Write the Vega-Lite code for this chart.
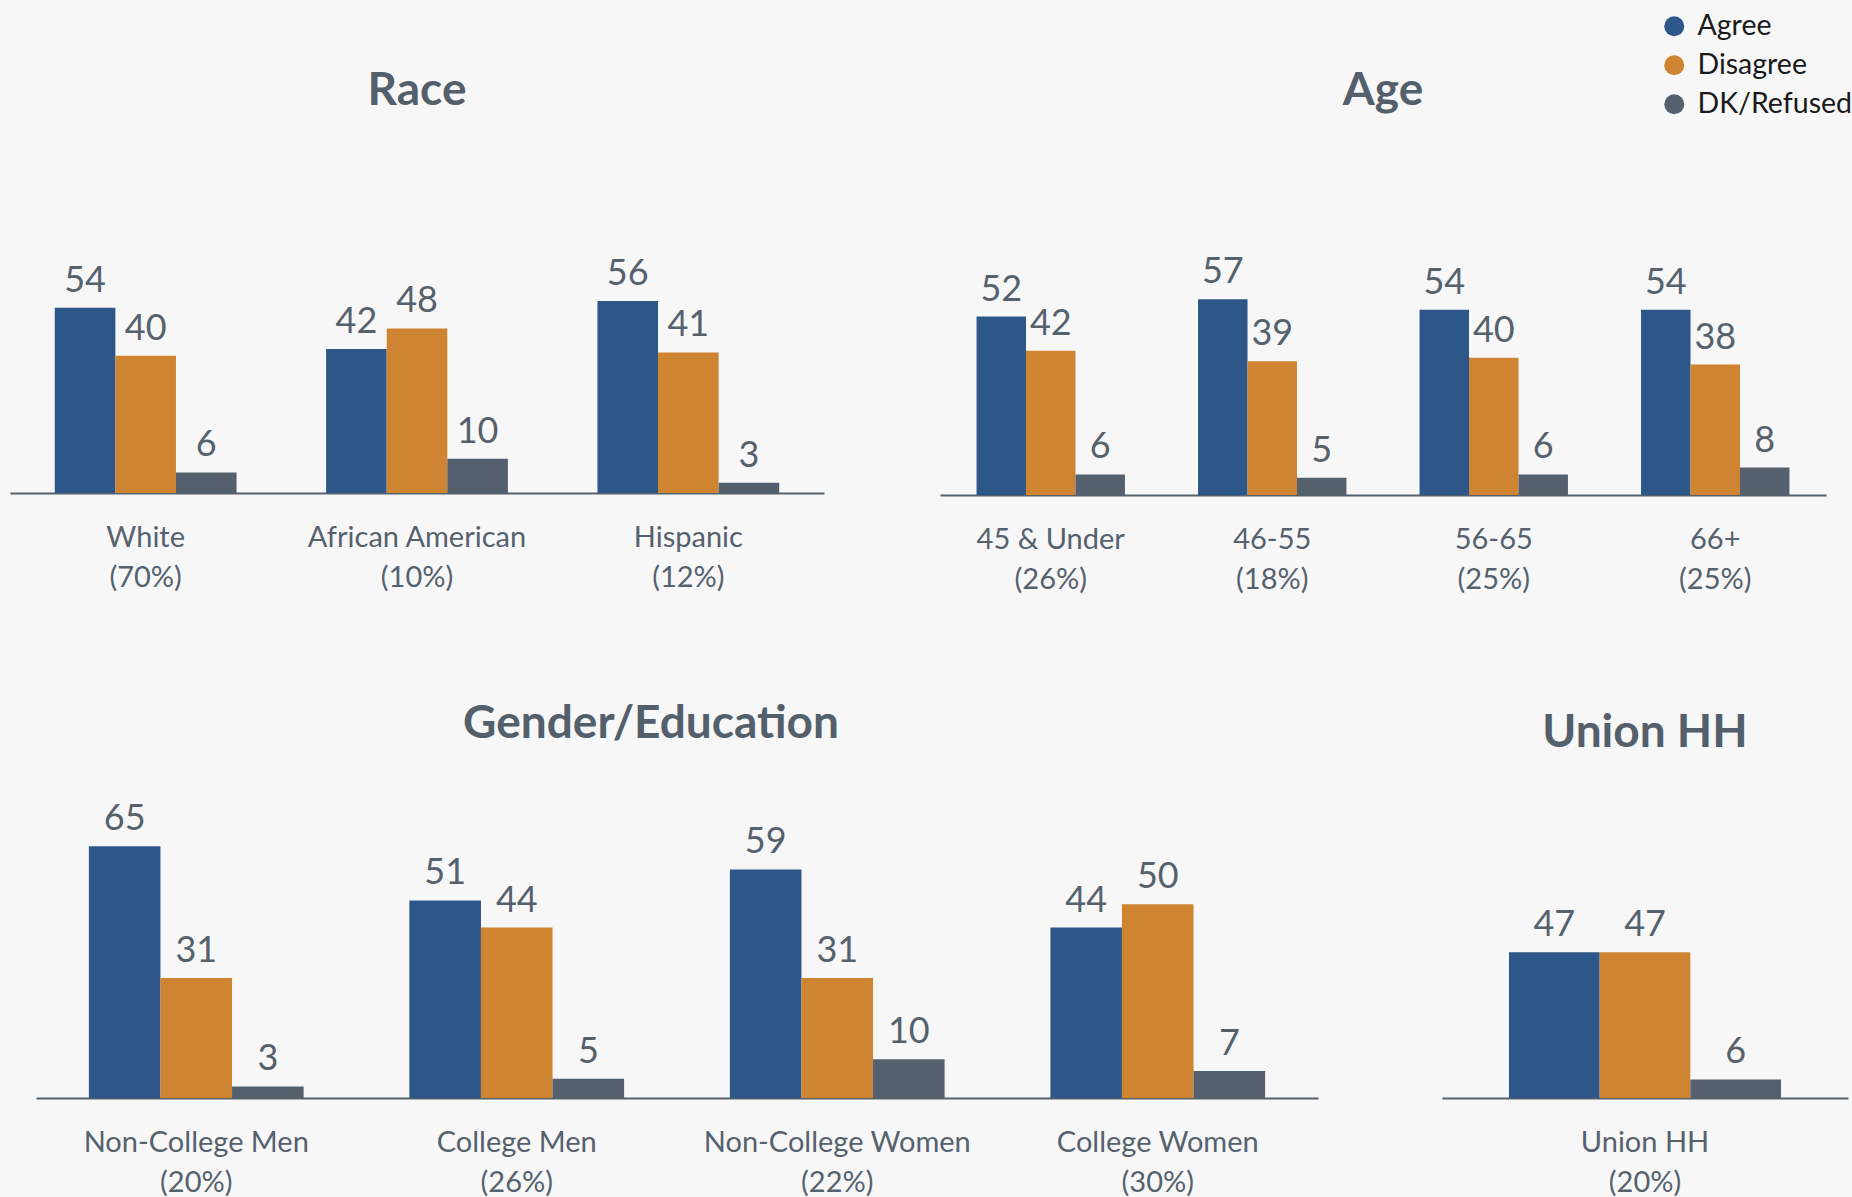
{
  "$schema": "https://vega.github.io/schema/vega-lite/v6.json",
  "background": "#f7f7f7",
  "padding": {"left": 10, "top": 12, "right": 2, "bottom": 2},
  "datasets": {
    "d": [
      {"panel": "Race", "group": "White|(70%)", "series": "Agree", "value": 54},
      {"panel": "Race", "group": "White|(70%)", "series": "Disagree", "value": 40},
      {"panel": "Race", "group": "White|(70%)", "series": "DK/Refused", "value": 6},
      {"panel": "Race", "group": "African American|(10%)", "series": "Agree", "value": 42},
      {"panel": "Race", "group": "African American|(10%)", "series": "Disagree", "value": 48},
      {"panel": "Race", "group": "African American|(10%)", "series": "DK/Refused", "value": 10},
      {"panel": "Race", "group": "Hispanic|(12%)", "series": "Agree", "value": 56},
      {"panel": "Race", "group": "Hispanic|(12%)", "series": "Disagree", "value": 41},
      {"panel": "Race", "group": "Hispanic|(12%)", "series": "DK/Refused", "value": 3},
      {"panel": "Age", "group": "45 & Under|(26%)", "series": "Agree", "value": 52},
      {"panel": "Age", "group": "45 & Under|(26%)", "series": "Disagree", "value": 42},
      {"panel": "Age", "group": "45 & Under|(26%)", "series": "DK/Refused", "value": 6},
      {"panel": "Age", "group": "46-55|(18%)", "series": "Agree", "value": 57},
      {"panel": "Age", "group": "46-55|(18%)", "series": "Disagree", "value": 39},
      {"panel": "Age", "group": "46-55|(18%)", "series": "DK/Refused", "value": 5},
      {"panel": "Age", "group": "56-65|(25%)", "series": "Agree", "value": 54},
      {"panel": "Age", "group": "56-65|(25%)", "series": "Disagree", "value": 40},
      {"panel": "Age", "group": "56-65|(25%)", "series": "DK/Refused", "value": 6},
      {"panel": "Age", "group": "66+|(25%)", "series": "Agree", "value": 54},
      {"panel": "Age", "group": "66+|(25%)", "series": "Disagree", "value": 38},
      {"panel": "Age", "group": "66+|(25%)", "series": "DK/Refused", "value": 8},
      {"panel": "Gender", "group": "Non-College Men|(20%)", "series": "Agree", "value": 65},
      {"panel": "Gender", "group": "Non-College Men|(20%)", "series": "Disagree", "value": 31},
      {"panel": "Gender", "group": "Non-College Men|(20%)", "series": "DK/Refused", "value": 3},
      {"panel": "Gender", "group": "College Men|(26%)", "series": "Agree", "value": 51},
      {"panel": "Gender", "group": "College Men|(26%)", "series": "Disagree", "value": 44},
      {"panel": "Gender", "group": "College Men|(26%)", "series": "DK/Refused", "value": 5},
      {"panel": "Gender", "group": "Non-College Women|(22%)", "series": "Agree", "value": 59},
      {"panel": "Gender", "group": "Non-College Women|(22%)", "series": "Disagree", "value": 31},
      {"panel": "Gender", "group": "Non-College Women|(22%)", "series": "DK/Refused", "value": 10},
      {"panel": "Gender", "group": "College Women|(30%)", "series": "Agree", "value": 44},
      {"panel": "Gender", "group": "College Women|(30%)", "series": "Disagree", "value": 50},
      {"panel": "Gender", "group": "College Women|(30%)", "series": "DK/Refused", "value": 7},
      {"panel": "Union", "group": "Union HH|(20%)", "series": "Agree", "value": 47},
      {"panel": "Union", "group": "Union HH|(20%)", "series": "Disagree", "value": 47},
      {"panel": "Union", "group": "Union HH|(20%)", "series": "DK/Refused", "value": 6}
    ]
  },
  "data": {"name": "d"},
  "spacing": 107,
  "resolve": {"scale": {"x": "independent", "y": "independent", "xOffset": "independent"}},
  "vconcat": [
    {
      "hconcat": [
        {
          "width": 814, "height": 240,
          "title": {"text": "Race", "offset": 138},
          "transform": [{"filter": "datum.panel == 'Race'"}],
          "encoding": {
            "x": {"field": "group", "type": "nominal", "sort": null, "title": null,
                  "scale": {"paddingInner": 0.33, "paddingOuter": 0.165},
                  "axis": {"labelExpr": "split(datum.label, '|')"}},
            "xOffset": {"field": "series", "type": "nominal", "sort": ["Agree", "Disagree", "DK/Refused"]},
            "y": {"field": "value", "type": "quantitative", "scale": {"domain": [0, 70]}, "axis": null},
            "color": {"field": "series", "type": "nominal", "sort": ["Agree", "Disagree", "DK/Refused"],
                      "scale": {"domain": ["Agree", "Disagree", "DK/Refused"], "range": ["#2d5689", "#ce8431", "#54606d"]},
                      "legend": {"title": null}}
          },
          "layer": [
            {"mark": {"type": "bar"}},
            {"mark": {"type": "text", "baseline": "alphabetic", "dy": -16, "fontSize": 36},
             "encoding": {"text": {"field": "value", "type": "quantitative"}, "color": {"value": "#56616e"}}}
          ]
        },
        {
          "width": 116, "height": 240,
          "mark": {"type": "point", "opacity": 0}
        },
        {
          "width": 886, "height": 242,
          "title": {"text": "Age", "offset": 138},
          "transform": [{"filter": "datum.panel == 'Age'"}],
          "encoding": {
            "x": {"field": "group", "type": "nominal", "sort": null, "title": null,
                  "scale": {"paddingInner": 0.33, "paddingOuter": 0.165},
                  "axis": {"labelExpr": "split(datum.label, '|')"}},
            "xOffset": {"field": "series", "type": "nominal", "sort": ["Agree", "Disagree", "DK/Refused"]},
            "y": {"field": "value", "type": "quantitative", "scale": {"domain": [0, 70.5]}, "axis": null},
            "color": {"field": "series", "type": "nominal", "sort": ["Agree", "Disagree", "DK/Refused"],
                      "scale": {"domain": ["Agree", "Disagree", "DK/Refused"], "range": ["#2d5689", "#ce8431", "#54606d"]},
                      "legend": {"title": null}}
          },
          "layer": [
            {"mark": {"type": "bar"}},
            {"mark": {"type": "text", "baseline": "alphabetic", "dy": -16, "fontSize": 36},
             "encoding": {"text": {"field": "value", "type": "quantitative"}, "color": {"value": "#56616e"}}}
          ]
        }
      ],
      "spacing": 0,
      "bounds": "flush",
      "resolve": {"scale": {"x": "independent", "y": "independent", "xOffset": "independent"}}
    },
    {
      "hconcat": [
        {
          "width": 26, "height": 310,
          "mark": {"type": "point", "opacity": 0}
        },
        {
          "width": 1282, "height": 310,
          "title": {"text": "Gender/Education", "offset": 40, "dx": -26},
          "transform": [{"filter": "datum.panel == 'Gender'"}],
          "encoding": {
            "x": {"field": "group", "type": "nominal", "sort": null, "title": null,
                  "scale": {"paddingInner": 0.33, "paddingOuter": 0.165},
                  "axis": {"labelExpr": "split(datum.label, '|')"}},
            "xOffset": {"field": "series", "type": "nominal", "sort": ["Agree", "Disagree", "DK/Refused"]},
            "y": {"field": "value", "type": "quantitative", "scale": {"domain": [0, 80]}, "axis": null},
            "color": {"field": "series", "type": "nominal", "sort": ["Agree", "Disagree", "DK/Refused"],
                      "scale": {"domain": ["Agree", "Disagree", "DK/Refused"], "range": ["#2d5689", "#ce8431", "#54606d"]},
                      "legend": {"title": null}}
          },
          "layer": [
            {"mark": {"type": "bar"}},
            {"mark": {"type": "text", "baseline": "alphabetic", "dy": -16, "fontSize": 36},
             "encoding": {"text": {"field": "value", "type": "quantitative"}, "color": {"value": "#56616e"}}}
          ]
        },
        {
          "width": 124, "height": 310,
          "mark": {"type": "point", "opacity": 0}
        },
        {
          "width": 406, "height": 310,
          "title": {"text": "Union HH", "offset": 31},
          "transform": [{"filter": "datum.panel == 'Union'"}],
          "encoding": {
            "x": {"field": "group", "type": "nominal", "sort": null, "title": null,
                  "scale": {"paddingInner": 0.33, "paddingOuter": 0.165},
                  "axis": {"labelExpr": "split(datum.label, '|')"}},
            "xOffset": {"field": "series", "type": "nominal", "sort": ["Agree", "Disagree", "DK/Refused"]},
            "y": {"field": "value", "type": "quantitative", "scale": {"domain": [0, 100]}, "axis": null},
            "color": {"field": "series", "type": "nominal", "sort": ["Agree", "Disagree", "DK/Refused"],
                      "scale": {"domain": ["Agree", "Disagree", "DK/Refused"], "range": ["#2d5689", "#ce8431", "#54606d"]},
                      "legend": {"title": null}}
          },
          "layer": [
            {"mark": {"type": "bar"}},
            {"mark": {"type": "text", "baseline": "alphabetic", "dy": -16, "fontSize": 36},
             "encoding": {"text": {"field": "value", "type": "quantitative"}, "color": {"value": "#56616e"}}}
          ]
        }
      ],
      "spacing": 0,
      "bounds": "flush",
      "resolve": {"scale": {"x": "independent", "y": "independent", "xOffset": "independent"}}
    }
  ],
  "config": {
    "font": "Lato",
    "view": {"stroke": null},
    "title": {"fontSize": 46, "fontWeight": "bold", "color": "#535f6b", "anchor": "middle", "baseline": "alphabetic"},
    "axisX": {
      "domain": true, "domainColor": "#56616e", "domainWidth": 2,
      "ticks": false, "grid": false, "labelAngle": 0,
      "labelFontSize": 29, "labelColor": "#56616e", "labelLineHeight": 40,
      "labelPadding": 30, "labelLimit": 600, "labelOverlap": false, "labelBaseline": "top"
    },
    "legend": {
      "orient": "none", "legendX": 1650, "legendY": -241,
      "symbolType": "circle", "symbolSize": 400, "symbolStrokeWidth": 0, "symbolOpacity": 1,
      "labelFontSize": 28.5, "labelColor": "#1a1a1a", "rowPadding": 10, "labelOffset": 9, "padding": 0
    }
  }
}
